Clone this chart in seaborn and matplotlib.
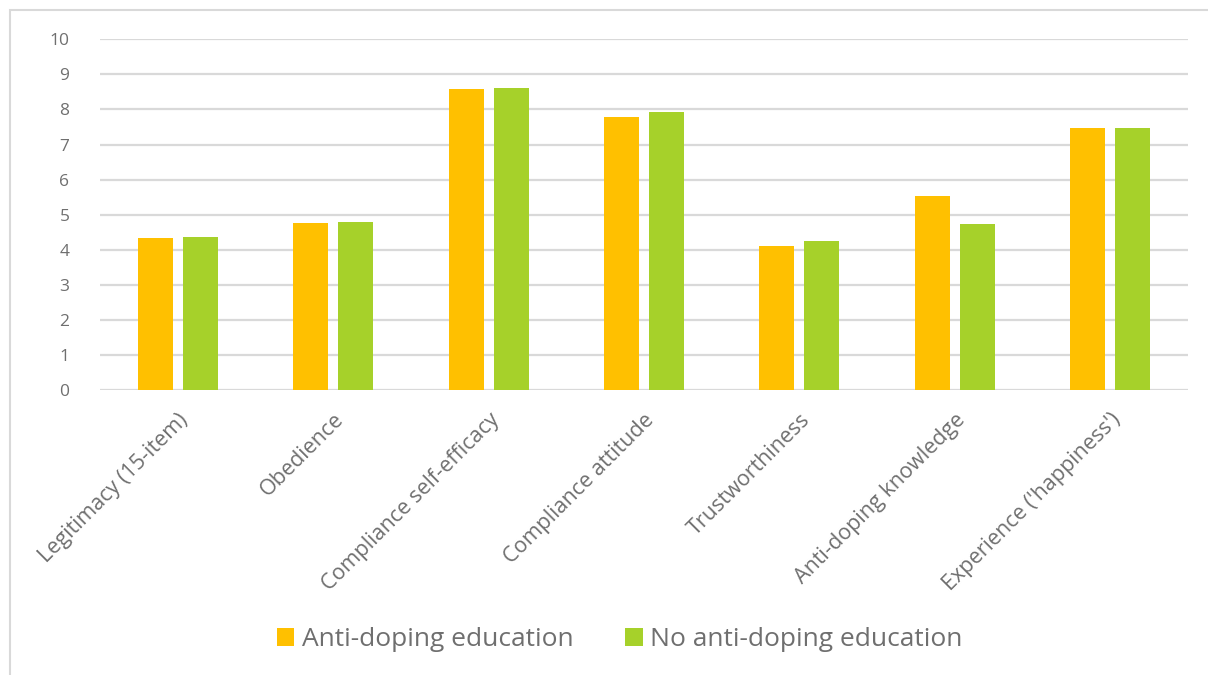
import matplotlib
matplotlib.use("Agg")
import matplotlib.pyplot as plt
import seaborn as sns
import pandas as pd
from matplotlib.patches import Rectangle

# Mean scores per measure for the two groups
categories = [
    "Legitimacy (15-item)",
    "Obedience",
    "Compliance self-efficacy",
    "Compliance attitude",
    "Trustworthiness",
    "Anti-doping knowledge",
    "Experience ('happiness')",
]
groups = ["Anti-doping education", "No anti-doping education"]
education = [4.33, 4.76, 8.57, 7.79, 4.12, 5.53, 7.47]
no_education = [4.36, 4.79, 8.60, 7.93, 4.25, 4.73, 7.46]
y_ticks = list(range(0, 11))

df = pd.DataFrame({
    "measure": categories * 2,
    "group": [groups[0]] * len(categories) + [groups[1]] * len(categories),
    "score": education + no_education,
})

text_color = "#6f6f6f"
grid_color = "#d9d9d9"
palette = {groups[0]: "#FFC000", groups[1]: "#A6D12A"}

sns.set_theme(style="white")
plt.rcParams["font.family"] = ["Open Sans", "DejaVu Sans"]

W, H = 1208, 675
fig = plt.figure(figsize=(W / 100, H / 100), dpi=100)
ax = fig.add_axes([100 / W, 1 - 390 / H, 1088 / W, (390 - 39.3) / H])

sns.barplot(
    data=df, x="measure", y="score", hue="group", order=categories,
    hue_order=groups, palette=palette, width=0.579, gap=0.222,
    saturation=1, linewidth=0, ax=ax, legend=True,
)

ax.set_ylim(0, 10)
ax.set_yticks(y_ticks)
ax.set_yticklabels([str(t) for t in y_ticks], color=text_color, fontsize=12.5)
ax.yaxis.grid(True, color=grid_color, linewidth=1.6)
ax.set_axisbelow(True)
for s in ax.spines.values():
    s.set_visible(False)
ax.tick_params(axis="y", length=0, pad=22)
ax.tick_params(axis="x", length=0, pad=14)
ax.set_xlabel("")
ax.set_ylabel("")
ax.set_xticks(range(len(categories)))
ax.set_xticklabels(categories, rotation=45, ha="right",
                   rotation_mode="anchor", color=text_color, fontsize=15.5)

# Legend below the labels
ax.get_legend().remove()
handles = [Rectangle((0, 0), 1, 1, facecolor=palette[g], edgecolor="none") for g in groups]
fig.legend(handles, groups, loc="center", bbox_to_anchor=(620 / W, 1 - 640 / H),
           ncol=2, frameon=False, fontsize=19, labelcolor=text_color,
           handlelength=0.65, handleheight=0.65, handletextpad=0.3,
           columnspacing=1.95)

# Chart frame
fig.patches.append(Rectangle((10 / W, -0.05), 1.1, 1 - 10 / H + 0.05,
                             transform=fig.transFigure, fill=False,
                             edgecolor=grid_color, linewidth=1.5))

fig.savefig("out.png", dpi=100, facecolor="white")
